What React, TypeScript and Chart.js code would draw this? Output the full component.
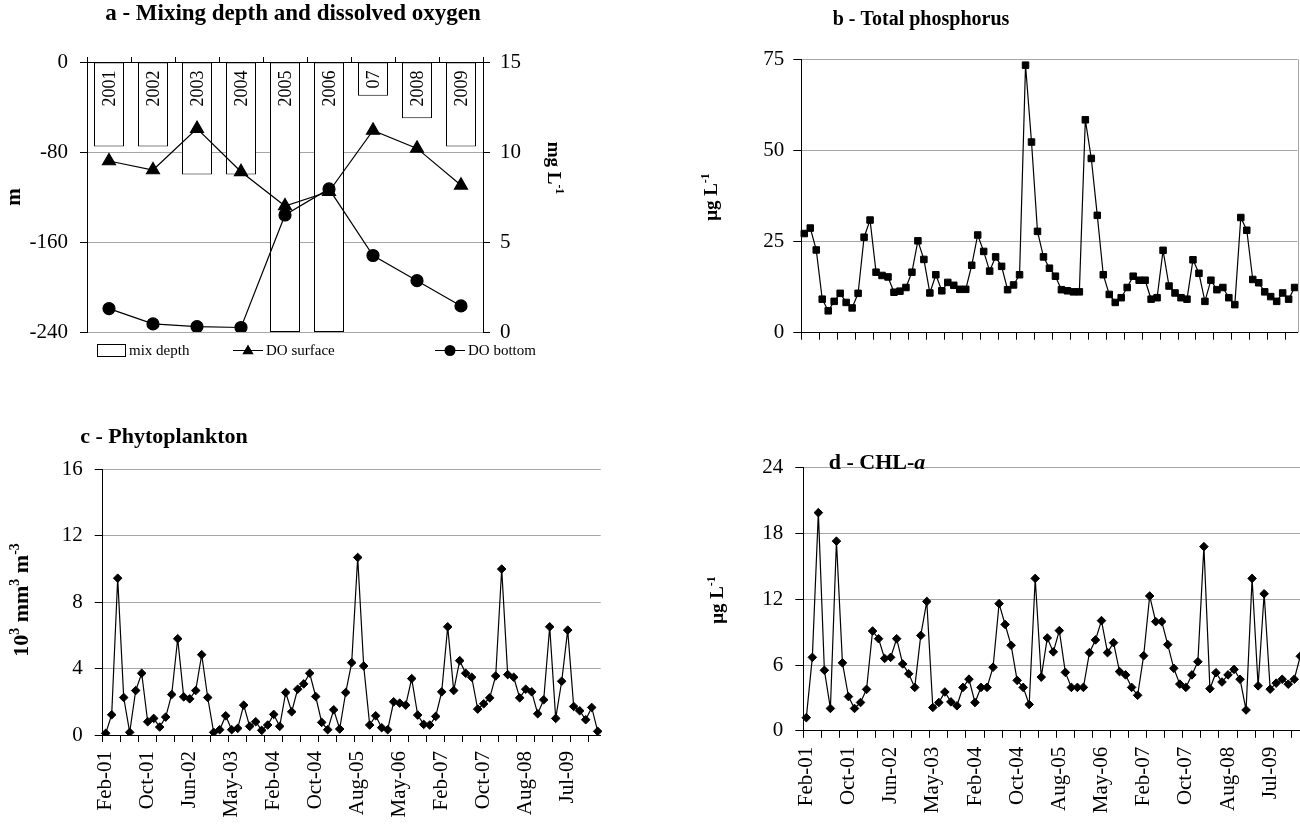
import React, { useEffect, useRef } from 'react';
import { Chart, registerables } from 'chart.js';

Chart.register(...registerables);

const FONT = "'Liberation Serif', 'Times New Roman', Times, serif";
const GRID = '#a6a6a6';

// ---------- Panel a data ----------
const years = ['2001', '2002', '2003', '2004', '2005', '2006', '2007', '2008', '2009'];
const barLabels = ['2001', '2002', '2003', '2004', '2005', '2006', '07', '2008', '2009'];
const mixDepth = [-75, -75, -100, -100, -240, -240, -30, -50, -75];
const doSurface = [9.5, 9.0, 11.3, 8.9, 7.0, 7.8, 11.2, 10.2, 8.15];
const doBottom = [1.3, 0.45, 0.3, 0.25, 6.5, 7.95, 4.25, 2.85, 1.45];

// ---------- Time series data ----------
const tickLabels = ['Feb-01', 'Oct-01', 'Jun-02', 'May-03', 'Feb-04', 'Oct-04', 'Aug-05', 'May-06', 'Feb-07', 'Oct-07', 'Aug-08', 'Jul-09'];

const totalP = [
  27.2, 28.7, 22.7, 9.2, 6.0, 8.6, 10.8, 8.3, 6.8, 10.8,
  26.2, 30.9, 16.6, 15.7, 15.3, 11.1, 11.4, 12.4, 16.6, 25.2,
  20.1, 10.9, 15.9, 11.5, 13.8, 13.0, 11.9, 11.9, 18.5, 26.8,
  22.3, 16.9, 20.8, 18.2, 11.8, 13.1, 15.9, 73.4, 52.3, 27.8,
  20.8, 17.7, 15.5, 11.8, 11.5, 11.2, 11.2, 58.4, 47.8, 32.2,
  15.9, 10.5, 8.3, 9.6, 12.4, 15.5, 14.4, 14.4, 9.2, 9.6,
  22.6, 12.8, 10.9, 9.6, 9.2, 20.0, 16.3, 8.6, 14.4, 11.8,
  12.4, 9.6, 7.7, 31.6, 28.1, 14.6, 13.7, 11.2, 9.9, 8.6,
  10.9, 9.2, 12.4,
];

const phyto = [
  0.1, 1.22, 9.45, 2.26, 0.16, 2.68, 3.72, 0.8, 1.0, 0.48,
  1.08, 2.44, 5.8, 2.3, 2.18, 2.68, 4.84, 2.26, 0.16, 0.32,
  1.16, 0.32, 0.4, 1.8, 0.52, 0.8, 0.28, 0.6, 1.24, 0.52,
  2.56, 1.4, 2.76, 3.08, 3.72, 2.32, 0.76, 0.32, 1.52, 0.36,
  2.56, 4.36, 10.7, 4.16, 0.6, 1.16, 0.44, 0.32, 2.0, 1.92,
  1.8, 3.4, 1.2, 0.64, 0.6, 1.12, 2.6, 6.52, 2.68, 4.48,
  3.72, 3.48, 1.56, 1.88, 2.24, 3.56, 10.0, 3.64, 3.48, 2.24,
  2.76, 2.6, 1.28, 2.12, 6.52, 1.0, 3.24, 6.32, 1.72, 1.46,
  0.92, 1.66, 0.22,
];

const chla = [
  1.2, 6.7, 19.9, 5.52, 2.04, 17.3, 6.2, 3.12, 2.04, 2.58,
  3.78, 9.1, 8.4, 6.6, 6.7, 8.4, 6.1, 5.2, 3.96, 8.7,
  11.8, 2.13, 2.58, 3.54, 2.64, 2.28, 3.96, 4.71, 2.58, 3.96,
  3.96, 5.8, 11.6, 9.7, 7.8, 4.6, 3.96, 2.4, 13.9, 4.9,
  8.47, 7.2, 9.14, 5.33, 3.96, 3.96, 3.96, 7.13, 8.29, 10.05,
  7.13, 8.04, 5.4, 5.1, 3.96, 3.24, 6.85, 12.3, 9.96, 9.96,
  7.86, 5.7, 4.26, 3.96, 5.1, 6.3, 16.8, 3.84, 5.3, 4.45,
  5.1, 5.6, 4.7, 1.9, 13.9, 4.1, 12.5, 3.8, 4.35, 4.7,
  4.25, 4.7, 6.8,
];

// one category per sample; every 7th sample carries a tick label
const categories = totalP.map((_, i) => (i % 7 === 0 ? tickLabels[i / 7] : ''));

type Part = { t: string; sup?: boolean; it?: boolean };

function drawRich(ctx: CanvasRenderingContext2D, parts: Part[], x: number, y: number, angle: number, size: number, bold: boolean) {
  ctx.save();
  ctx.translate(x, y);
  ctx.rotate(angle);
  const f = (p: Part) => `${p.it ? 'italic ' : ''}${bold ? 'bold ' : ''}${p.sup ? Math.round(size * 0.62) : size}px ${FONT}`;
  let total = 0;
  const widths = parts.map((p) => {
    ctx.font = f(p);
    const w = ctx.measureText(p.t).width;
    total += w;
    return w;
  });
  let cx = -total / 2;
  ctx.textBaseline = 'middle';
  ctx.textAlign = 'left';
  ctx.fillStyle = '#000';
  parts.forEach((p, i) => {
    ctx.font = f(p);
    ctx.fillText(p.t, cx, p.sup ? -size * 0.32 : 0);
    cx += widths[i];
  });
  ctx.restore();
}

const tickFont = { family: FONT, size: 21 };

const every3Ticks = (c: any) => (c && typeof c.index === 'number' && c.index % 3 === 0 ? '#000' : 'rgba(0,0,0,0)');
const yGridColor = (c: any) => (c && c.tick && c.tick.value === 0 ? 'rgba(0,0,0,0)' : GRID);

function timeSeriesConfig(opts: {
  data: number[];
  pointStyle: string;
  pointRadius: number;
  yMax: number;
  yStep: number;
  yWidth: number;
  yPad: number;
  xHeight: number;
  padTop: number;
  padRight: number;
  showLabels: boolean;
  plugin: any;
}) {
  return {
    type: 'line',
    data: {
      labels: categories,
      datasets: [
        {
          data: opts.data,
          borderColor: '#000',
          borderWidth: 1.2,
          pointStyle: opts.pointStyle,
          pointRadius: opts.pointRadius,
          pointBackgroundColor: '#000',
          pointBorderColor: '#000',
          pointBorderWidth: 1,
          tension: 0,
        },
      ],
    },
    options: {
      responsive: false,
      animation: false,
      layout: { autoPadding: false, padding: { left: 0, right: opts.padRight, top: opts.padTop, bottom: 0 } },
      plugins: { legend: { display: false }, tooltip: { enabled: false }, title: { display: false } },
      scales: {
        x: {
          type: 'category',
          offset: true,
          grid: { offset: true, drawOnChartArea: false, drawTicks: true, tickLength: 7, color: every3Ticks, lineWidth: 1 },
          border: { display: true, color: '#000', width: 1 },
          ticks: {
            display: opts.showLabels,
            autoSkip: false,
            minRotation: 90,
            maxRotation: 90,
            padding: 9,
            color: '#000',
            font: tickFont,
            callback: (_v: any, i: number) => categories[i],
          },
          afterFit: (s: any) => {
            s.height = opts.xHeight;
            s.paddingLeft = 0;
            s.paddingRight = 0;
          },
        },
        y: {
          min: 0,
          max: opts.yMax,
          ticks: { stepSize: opts.yStep, color: '#000', font: tickFont, padding: opts.yPad },
          grid: { color: yGridColor, tickColor: '#000', tickLength: 8, lineWidth: 1 },
          border: { display: true, color: '#000', width: 1 },
          afterFit: (s: any) => {
            s.width = opts.yWidth;
            s.paddingTop = 0;
            s.paddingBottom = 0;
          },
        },
      },
    },
    plugins: [opts.plugin],
  };
}

// ---------- plugins ----------
function drawTriangle(ctx: CanvasRenderingContext2D, x: number, y: number, r: number) {
  ctx.beginPath();
  for (let k = 0; k < 3; k++) {
    const a = (k * 2 * Math.PI) / 3;
    const px = x + Math.sin(a) * r;
    const py = y - Math.cos(a) * r;
    if (k === 0) ctx.moveTo(px, py);
    else ctx.lineTo(px, py);
  }
  ctx.closePath();
  ctx.fill();
}

const panelAPlugin = {
  id: 'panelA',
  afterDatasetsDraw(chart: any) {
    const ctx = chart.ctx as CanvasRenderingContext2D;
    const meta = chart.getDatasetMeta(2);
    ctx.save();
    ctx.fillStyle = '#000';
    ctx.font = `18px ${FONT}`;
    meta.data.forEach((bar: any, i: number) => {
      ctx.save();
      ctx.translate(bar.x, bar.base + 8);
      ctx.rotate(-Math.PI / 2);
      ctx.textAlign = 'right';
      ctx.textBaseline = 'middle';
      ctx.fillText(barLabels[i], 0, 1);
      ctx.restore();
    });
    ctx.restore();
  },
  afterDraw(chart: any) {
    const ctx = chart.ctx as CanvasRenderingContext2D;
    drawRich(ctx, [{ t: 'a - Mixing depth and dissolved oxygen' }], 293, 14, 0, 23, true);
    drawRich(ctx, [{ t: 'm' }], 15, 197, -Math.PI / 2, 21, true);
    drawRich(ctx, [{ t: 'mg L' }, { t: '-1', sup: true }], 553, 168, Math.PI / 2, 19, true);

    // legend
    const ly = 350;
    ctx.save();
    ctx.strokeStyle = '#000';
    ctx.fillStyle = '#fff';
    ctx.lineWidth = 1;
    ctx.fillRect(97, ly - 6, 28, 12);
    ctx.strokeRect(97.5, ly - 5.5, 28, 12);
    ctx.fillStyle = '#000';
    ctx.font = `15px ${FONT}`;
    ctx.textBaseline = 'middle';
    ctx.textAlign = 'left';
    ctx.fillText('mix depth', 129, ly + 1);

    ctx.beginPath();
    ctx.moveTo(233, ly + 0.5);
    ctx.lineTo(263, ly + 0.5);
    ctx.stroke();
    drawTriangle(ctx, 248, ly + 1, 6.5);
    ctx.fillText('DO surface', 266, ly + 1);

    ctx.beginPath();
    ctx.moveTo(435, ly + 0.5);
    ctx.lineTo(465, ly + 0.5);
    ctx.stroke();
    ctx.beginPath();
    ctx.arc(450, ly + 0.5, 5.5, 0, Math.PI * 2);
    ctx.fill();
    ctx.fillText('DO bottom', 468, ly + 1);
    ctx.restore();
  },
};

const panelBPlugin = {
  id: 'panelB',
  afterDraw(chart: any) {
    const ctx = chart.ctx as CanvasRenderingContext2D;
    const a = chart.chartArea;
    ctx.save();
    ctx.strokeStyle = GRID;
    ctx.lineWidth = 1;
    ctx.beginPath();
    ctx.moveTo(Math.round(a.right) + 0.5, a.top);
    ctx.lineTo(Math.round(a.right) + 0.5, a.bottom);
    ctx.stroke();
    ctx.restore();
    drawRich(ctx, [{ t: 'b - Total phosphorus' }], 271, 20, 0, 20, true);
    drawRich(ctx, [{ t: 'μg L' }, { t: '-1', sup: true }], 62, 197, -Math.PI / 2, 19, true);
  },
};

const panelCPlugin = {
  id: 'panelC',
  afterDraw(chart: any) {
    const ctx = chart.ctx as CanvasRenderingContext2D;
    drawRich(ctx, [{ t: 'c - Phytoplankton' }], 164, 37, 0, 22, true);
    drawRich(
      ctx,
      [{ t: '10' }, { t: '3', sup: true }, { t: ' mm' }, { t: '3', sup: true }, { t: ' m' }, { t: '-3', sup: true }],
      22,
      200,
      -Math.PI / 2,
      22,
      true
    );
  },
};

const panelDPlugin = {
  id: 'panelD',
  afterDraw(chart: any) {
    const ctx = chart.ctx as CanvasRenderingContext2D;
    drawRich(ctx, [{ t: 'd - CHL-' }, { t: 'a', it: true }], 227, 63, 0, 22, true);
    drawRich(ctx, [{ t: 'μg L' }, { t: '-1', sup: true }], 68, 200, -Math.PI / 2, 19, true);
  },
};

// ---------- configs ----------
function panelAConfig() {
  return {
    type: 'bar',
    data: {
      labels: years,
      datasets: [
        {
          type: 'line',
          label: 'DO surface',
          data: doSurface,
          yAxisID: 'y1',
          borderColor: '#000',
          borderWidth: 1.2,
          pointStyle: 'triangle',
          pointRadius: 7.5,
          pointBackgroundColor: '#000',
          pointBorderColor: '#000',
          order: 1,
        },
        {
          type: 'line',
          label: 'DO bottom',
          data: doBottom,
          yAxisID: 'y1',
          borderColor: '#000',
          borderWidth: 1.2,
          pointStyle: 'circle',
          pointRadius: 6,
          pointBackgroundColor: '#000',
          pointBorderColor: '#000',
          order: 2,
        },
        {
          type: 'bar',
          label: 'mix depth',
          data: mixDepth,
          yAxisID: 'y',
          backgroundColor: '#fff',
          borderColor: '#000',
          borderWidth: 1,
          borderSkipped: false,
          barPercentage: 30 / 44,
          categoryPercentage: 1,
          order: 3,
        },
      ],
    },
    options: {
      responsive: false,
      animation: false,
      layout: { autoPadding: false, padding: { left: 0, right: 0, top: 0, bottom: 38 } },
      plugins: { legend: { display: false }, tooltip: { enabled: false }, title: { display: false } },
      scales: {
        x: {
          type: 'category',
          position: 'top',
          offset: true,
          grid: { offset: true, drawOnChartArea: false, drawTicks: true, tickLength: 5, color: '#000' },
          border: { display: true, color: '#000', width: 1 },
          ticks: { display: false },
          afterFit: (s: any) => {
            s.height = 62;
            s.paddingLeft = 0;
            s.paddingRight = 0;
          },
        },
        y: {
          position: 'left',
          min: -240,
          max: 0,
          ticks: { stepSize: 80, color: '#000', font: tickFont, padding: 12 },
          grid: { color: yGridColor, tickColor: '#000', tickLength: 7 },
          border: { display: true, color: '#000', width: 1 },
          afterFit: (s: any) => {
            s.width = 87;
            s.paddingTop = 0;
            s.paddingBottom = 0;
          },
        },
        y1: {
          position: 'right',
          min: 0,
          max: 15,
          ticks: { stepSize: 5, color: '#000', font: tickFont, padding: 10 },
          grid: { drawOnChartArea: false, tickColor: '#000', color: '#000', tickLength: 7 },
          border: { display: true, color: '#000', width: 1 },
          afterFit: (s: any) => {
            s.width = 167;
            s.paddingTop = 0;
            s.paddingBottom = 0;
          },
        },
      },
    },
    plugins: [panelAPlugin],
  };
}

const panelBConfig = () =>
  timeSeriesConfig({
    data: totalP,
    pointStyle: 'rect',
    pointRadius: 4.6,
    yMax: 75,
    yStep: 25,
    yWidth: 151.3,
    yPad: 9,
    xHeight: 37.3,
    padTop: 59.3,
    padRight: 2.4,
    showLabels: false,
    plugin: panelBPlugin,
  });

const panelCConfig = () =>
  timeSeriesConfig({
    data: phyto,
    pointStyle: 'rectRot',
    pointRadius: 4.3,
    yMax: 16,
    yStep: 4,
    yWidth: 102.7,
    yPad: 12,
    xHeight: 91,
    padTop: 69.5,
    padRight: 49.3,
    showLabels: true,
    plugin: panelCPlugin,
  });

const panelDConfig = () =>
  timeSeriesConfig({
    data: chla,
    pointStyle: 'rectRot',
    pointRadius: 4.3,
    yMax: 24,
    yStep: 6,
    yWidth: 153.3,
    yPad: 12,
    xHeight: 95.2,
    padTop: 67.7,
    padRight: 6.7,
    showLabels: true,
    plugin: panelDPlugin,
  });

function Panel({ left, top, width, height, config }: { left: number; top: number; width: number; height: number; config: () => any }) {
  const ref = useRef<HTMLCanvasElement>(null);
  useEffect(() => {
    if (!ref.current) return;
    const chart = new Chart(ref.current, config());
    return () => chart.destroy();
  }, []);
  return (
    <div style={{ position: 'absolute', left, top, width, height }}>
      <canvas ref={ref} width={width} height={height} style={{ width, height, display: 'block' }} />
    </div>
  );
}

export default function App() {
  Chart.defaults.font.family = FONT;
  Chart.defaults.color = '#000';
  return (
    <div style={{ position: 'fixed', left: 0, top: 0, width: 1300, height: 826, overflow: 'hidden', background: '#fff' }}>
      <Panel left={0} top={0} width={650} height={370} config={panelAConfig} />
      <Panel left={650} top={0} width={650} height={370} config={panelBConfig} />
      <Panel left={0} top={400} width={650} height={426} config={panelCConfig} />
      <Panel left={650} top={400} width={660} height={426} config={panelDConfig} />
    </div>
  );
}
